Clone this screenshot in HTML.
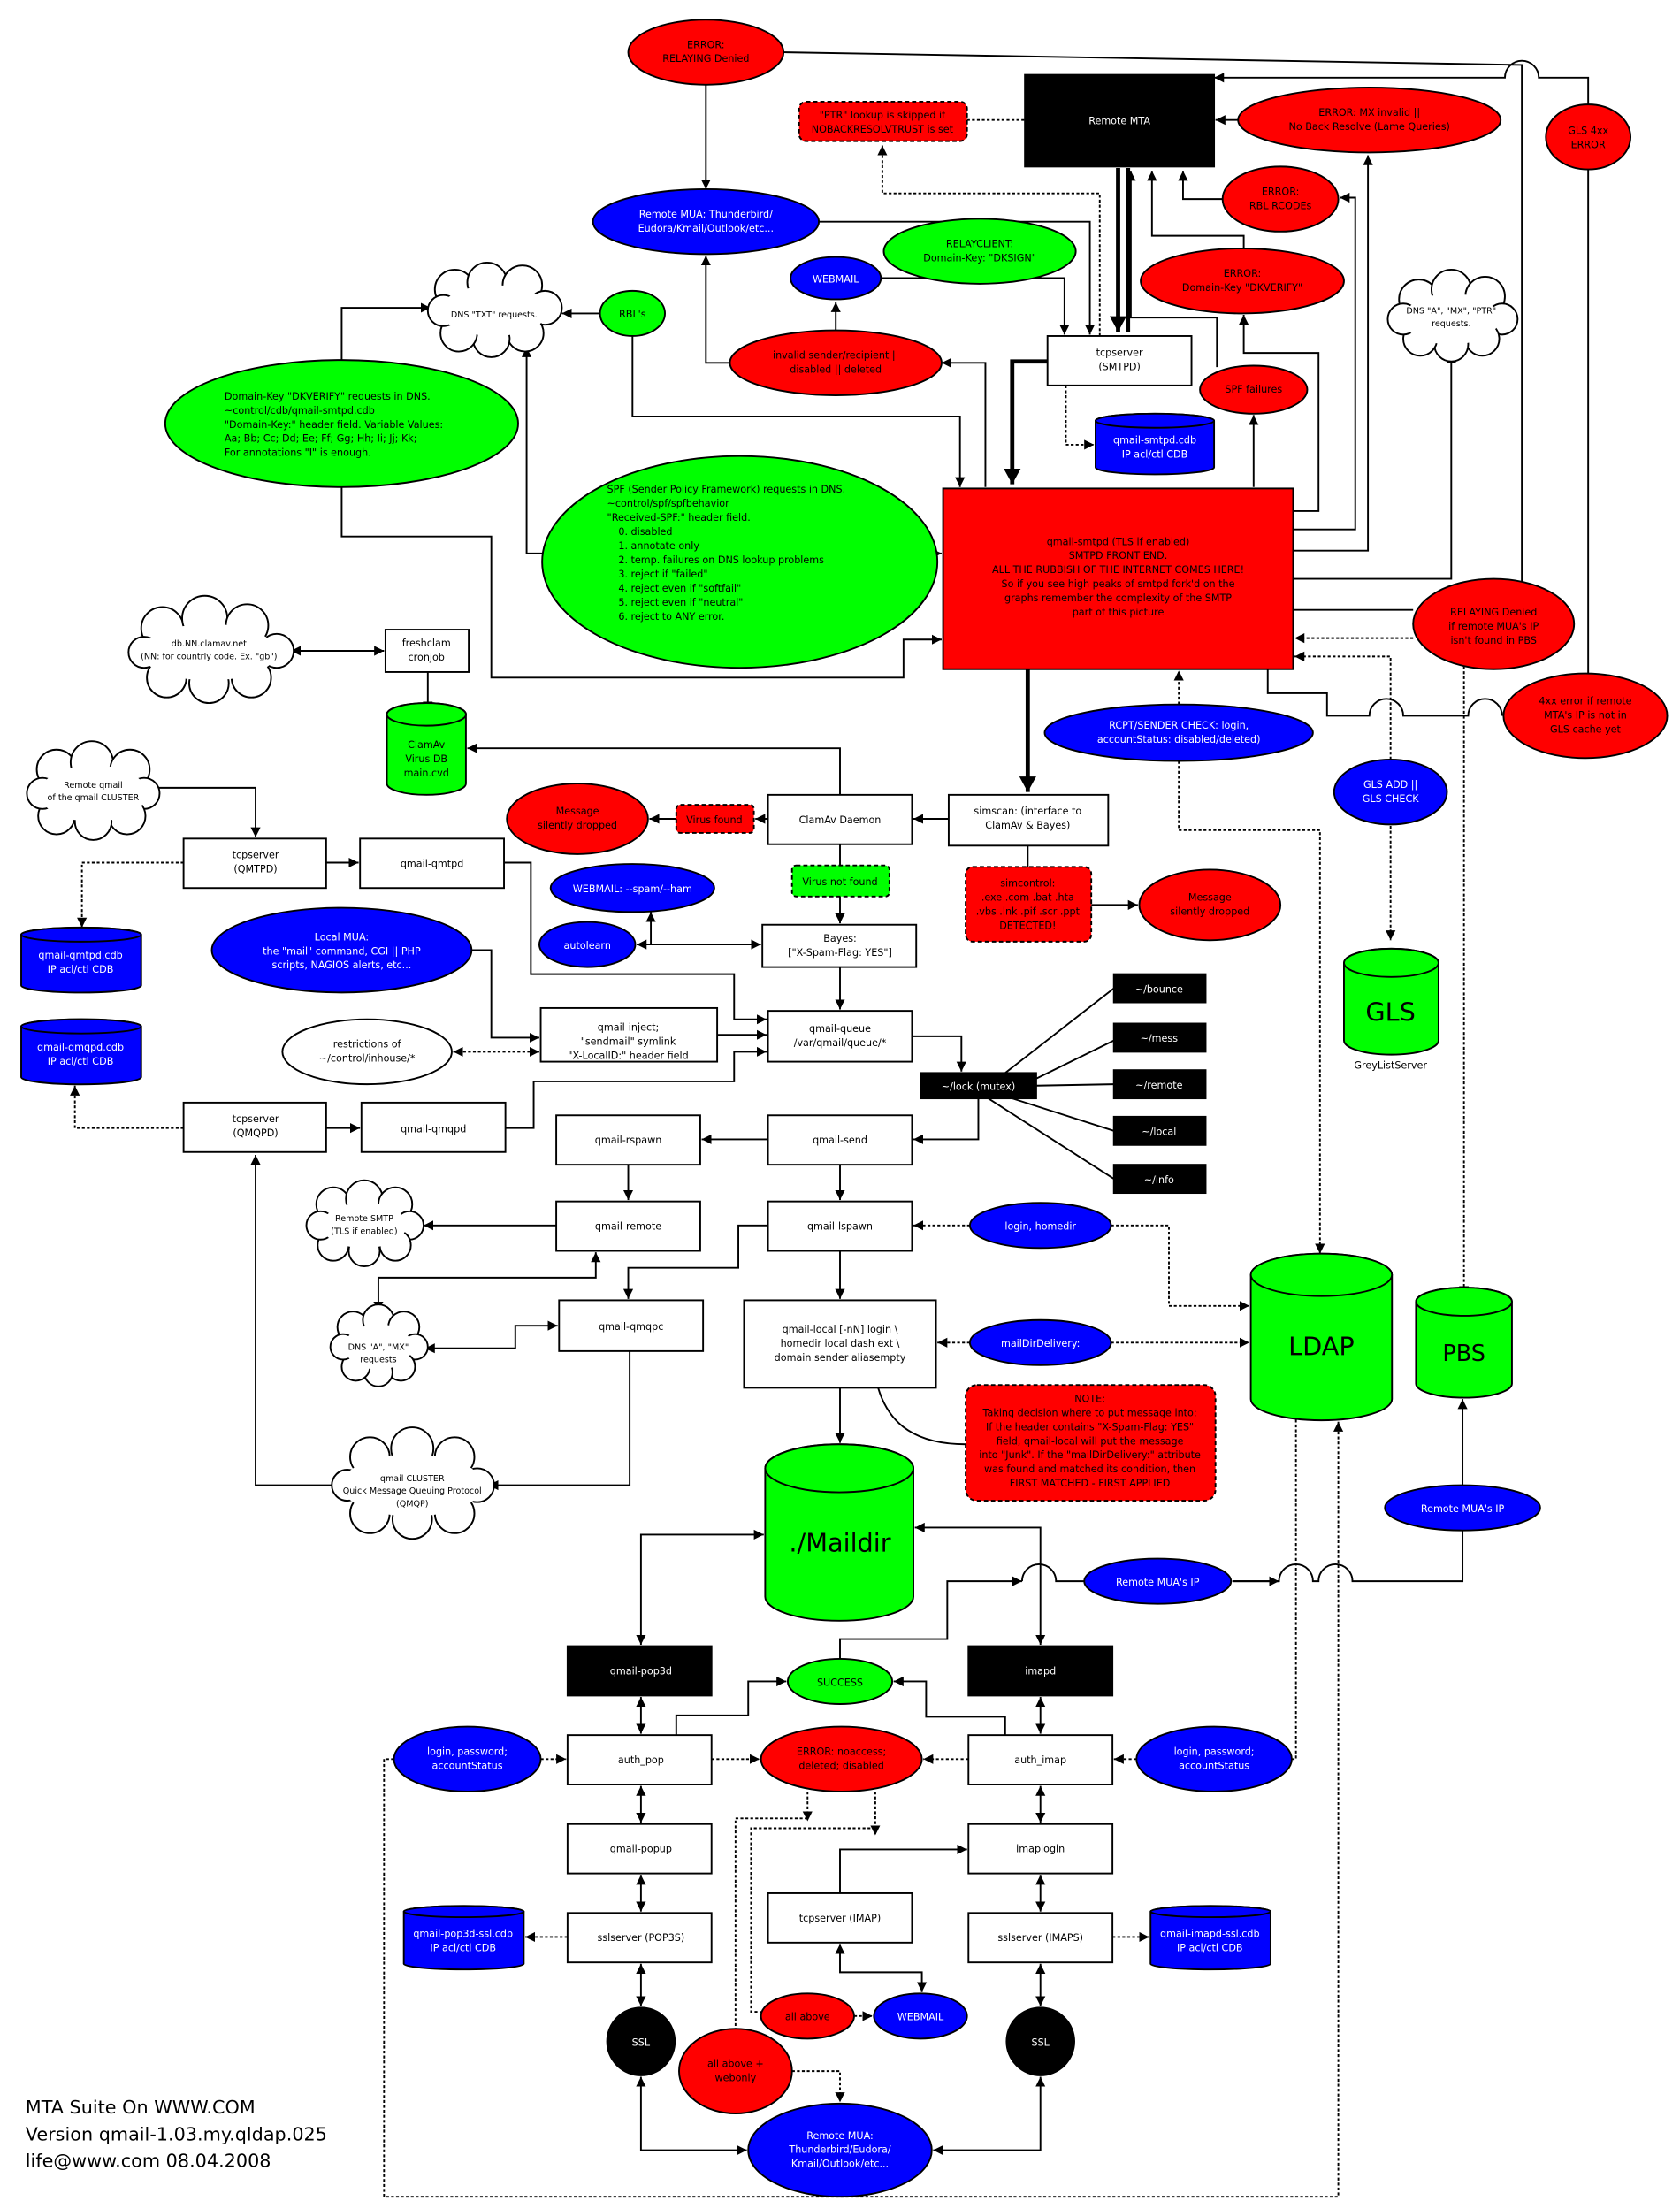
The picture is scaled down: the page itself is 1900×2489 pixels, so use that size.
<!DOCTYPE html>
<html><head><meta charset="utf-8"><style>html,body{margin:0;padding:0;background:#fff}svg{display:block}</style></head>
<body>
<svg width="1900" height="2489" viewBox="0 0 1190 1559" xmlns="http://www.w3.org/2000/svg" font-family="'DejaVu Sans','Liberation Sans',sans-serif" font-size="7">
<defs>
<marker id="a" markerUnits="userSpaceOnUse" markerWidth="8" markerHeight="8" refX="7" refY="4" orient="auto"><path d="M0,0.5 L7,4 L0,7.5 Z" fill="#000"/></marker>
<marker id="s" markerUnits="userSpaceOnUse" markerWidth="8" markerHeight="8" refX="1" refY="4" orient="auto"><path d="M8,0.5 L1,4 L8,7.5 Z" fill="#000"/></marker>
<marker id="A" markerUnits="userSpaceOnUse" markerWidth="12" markerHeight="12" refX="11" refY="6" orient="auto"><path d="M0,0 L11,6 L0,12 Z" fill="#000"/></marker>
</defs>
<rect width="1190" height="1559" fill="#fff"/>
<g fill="none" stroke="#000" stroke-width="1.2">
<!-- top lines -->
<path d="M555,37 L1078,46 L1078,430"/>
<path d="M1125,74 L1125,55 L1090,55 A12,12 0 0 0 1066,55 L860,55" marker-end="url(#a)"/>
<path d="M1125,120 L1125,478"/>
<path d="M500,60 L500,134" marker-end="url(#a)"/>
<path d="M685,85 L726,85" stroke-dasharray="2,1.5"/>
<path d="M779,238 L779,137 L625,137 L625,103" stroke-dasharray="2,1.5" marker-end="url(#a)"/>
<path d="M877,85 L861,85" marker-end="url(#a)"/>
<path d="M580,157 L772,157 L772,237" marker-end="url(#a)"/>
<path d="M625,197 L754,197 L754,237" marker-end="url(#a)"/>
<path d="M592,234 L592,214" marker-end="url(#a)"/>
<path d="M517,257 L500,257 L500,181" marker-end="url(#a)"/>
<path d="M698,345 L698,257 L667,257" marker-end="url(#a)"/>
<path d="M866,141 L838,141 L838,121" marker-end="url(#a)"/>
<path d="M916,362 L934,362 L934,250 L881,250 L881,223" marker-end="url(#a)"/>
<path d="M916,375 L960,375 L960,140 L949,140" marker-end="url(#a)"/>
<path d="M916,390 L969,390 L969,110" marker-end="url(#a)"/>
<path d="M881,176 L881,167 L816,167 L816,121" marker-end="url(#a)"/>
<path d="M862,260 L862,225 L801,225 L801,121" marker-end="url(#a)"/>
<path d="M888,345 L888,294" marker-end="url(#a)"/>
<path d="M916,410 L1028,410 L1028,250" marker-end="url(#a)"/>
<path d="M916,432 L1001,432"/>
<path d="M1001,452 L917,452" stroke-dasharray="2,1.5" marker-end="url(#a)"/>
<path d="M1037,465 L1037,918" stroke-dasharray="2,1.5" marker-end="url(#a)"/>
<path d="M898,474 L898,491 L940,491 L940,507 L970,507 A12,12 0 0 1 994,507 L1040,507 A12,12 0 0 1 1064,507"/>
<path d="M985,538 L985,465 L917,465" stroke-dasharray="2,1.5" marker-end="url(#a)"/>
<path d="M985,585 L985,666" stroke-dasharray="2,1.5" marker-end="url(#a)"/>
<path d="M835,499 L835,475" stroke-dasharray="2,1.5" marker-end="url(#a)"/>
<path d="M835,539 L835,588 L935,588 L935,888" stroke-dasharray="2,1.5" marker-end="url(#a)"/>
<path d="M755,273 L755,315 L775,315" stroke-dasharray="2,1.5" marker-end="url(#a)"/>
<!-- left top -->
<path d="M425,222 L398,222" marker-end="url(#a)"/>
<path d="M448,238 L448,295 L680,295 L680,345" marker-end="url(#a)"/>
<path d="M242,255 L242,218 L305,218" marker-end="url(#a)"/>
<path d="M242,345 L242,380 L348,380 L348,480 L640,480 L640,453 L667,453" marker-end="url(#a)"/>
<path d="M384,392 L373,392 L373,246" marker-end="url(#a)"/>
<path d="M664,392 L667,392" marker-end="url(#a)"/>
<path d="M206,461 L272,461" marker-start="url(#s)" marker-end="url(#a)"/>
<path d="M303,476 L303,504" marker-end="url(#a)"/>
<path d="M595,563 L595,530 L331,530" marker-end="url(#a)"/>
<path d="M544,580 L535,580" marker-end="url(#a)"/>
<path d="M479,580 L460,580" marker-end="url(#a)"/>
<path d="M672,580 L647,580" marker-end="url(#a)"/>
<path d="M728,599 L728,614"/>
<path d="M773,641 L806,641" marker-end="url(#a)"/>
<path d="M595,598 L595,613"/>
<path d="M595,635 L595,654" marker-end="url(#a)"/>
<path d="M451,669 L539,669" marker-start="url(#s)" marker-end="url(#a)"/>
<path d="M461,669 L461,646" marker-end="url(#a)"/>
<path d="M595,685 L595,715" marker-end="url(#a)"/>
<path d="M110,558 L181,558 L181,593" marker-end="url(#a)"/>
<path d="M231,611 L254,611" marker-end="url(#a)"/>
<path d="M130,611 L58,611 L58,657" stroke-dasharray="2,1.5" marker-end="url(#a)"/>
<path d="M357,611 L376,611 L376,690 L520,690 L520,722 L543,722" marker-end="url(#a)"/>
<path d="M334,673 L348,673 L348,735 L382,735" marker-end="url(#a)"/>
<path d="M321,745 L382,745" stroke-dasharray="2,1.5" marker-start="url(#s)" marker-end="url(#a)"/>
<path d="M508,733 L543,733" marker-end="url(#a)"/>
<path d="M231,799 L255,799" marker-end="url(#a)"/>
<path d="M130,799 L53,799 L53,769" stroke-dasharray="2,1.5" marker-end="url(#a)"/>
<path d="M358,799 L378,799 L378,766 L520,766 L520,745 L543,745" marker-end="url(#a)"/>
<path d="M646,734 L681,734 L681,759" marker-end="url(#a)"/>
<path d="M712,760 L789,700 M734,764 L789,737 M734,769 L789,768 M717,778 L789,801 M700,778 L789,835"/>
<path d="M693,778 L693,807 L647,807" marker-end="url(#a)"/>
<path d="M544,807 L497,807" marker-end="url(#a)"/>
<path d="M445,825 L445,850" marker-end="url(#a)"/>
<path d="M595,825 L595,850" marker-end="url(#a)"/>
<path d="M394,868 L300,868" marker-end="url(#a)"/>
<path d="M544,868 L523,868 L523,898 L445,898 L445,920" marker-end="url(#a)"/>
<path d="M268,929 L268,905 L422,905 L422,887" marker-start="url(#s)" marker-end="url(#a)"/>
<path d="M301,955 L365,955 L365,939 L395,939" marker-start="url(#s)" marker-end="url(#a)"/>
<path d="M446,957 L446,1052 L346,1052" marker-end="url(#a)"/>
<path d="M238,1052 L181,1052 L181,818" marker-end="url(#a)"/>
<path d="M687,868 L647,868" stroke-dasharray="2,1.5" marker-end="url(#a)"/>
<path d="M787,868 L828,868 L828,925 L885,925" stroke-dasharray="2,1.5" marker-end="url(#a)"/>
<path d="M595,885 L595,920" marker-end="url(#a)"/>
<path d="M687,951 L664,951" stroke-dasharray="2,1.5" marker-end="url(#a)"/>
<path d="M787,951 L885,951" stroke-dasharray="2,1.5" marker-end="url(#a)"/>
<path d="M622,983 C630,1010 650,1023 684,1023"/>
<path d="M595,983 L595,1022" marker-end="url(#a)"/>
<path d="M1036,1052 L1036,991" marker-end="url(#a)"/>
<path d="M873,1120 L906,1120 A12,12 0 0 1 930,1120 L934,1120 A12,12 0 0 1 958,1120 L1036,1120 L1036,1084"/>
<path d="M873,1120 L906,1120" marker-end="url(#a)"/>
<path d="M595,1175 L595,1161 L671,1161 L671,1120 L724,1120" marker-end="url(#a)"/>
<path d="M724,1120 A12,12 0 0 1 748,1120 L768,1120"/>
<path d="M541,1087 L454,1087 L454,1165" marker-start="url(#s)" marker-end="url(#a)"/>
<path d="M648,1082 L737,1082 L737,1165" marker-start="url(#s)" marker-end="url(#a)"/>
<path d="M454,1202 L454,1228" marker-start="url(#s)" marker-end="url(#a)"/>
<path d="M737,1202 L737,1228" marker-start="url(#s)" marker-end="url(#a)"/>
<path d="M479,1229 L479,1215 L530,1215 L530,1191 L557,1191" marker-end="url(#a)"/>
<path d="M712,1229 L712,1216 L656,1216 L656,1191 L633,1191" marker-end="url(#a)"/>
<path d="M383,1246 L401,1246" stroke-dasharray="2,1.5" marker-end="url(#a)"/>
<path d="M805,1246 L789,1246" stroke-dasharray="2,1.5" marker-end="url(#a)"/>
<path d="M915,1246 L918,1246 L918,983" stroke-dasharray="2,1.5" marker-end="url(#a)"/>
<path d="M504,1246 L538,1246" stroke-dasharray="2,1.5" marker-end="url(#a)"/>
<path d="M686,1246 L654,1246" stroke-dasharray="2,1.5" marker-end="url(#a)"/>
<path d="M572,1269 L572,1290" stroke-dasharray="2,1.5" marker-end="url(#a)"/>
<path d="M620,1269 L620,1300" stroke-dasharray="2,1.5" marker-end="url(#a)"/>
<path d="M572,1288 L521,1288 L521,1437" stroke-dasharray="2,1.5"/>
<path d="M620,1295 L532,1295 L532,1425 L539,1425" stroke-dasharray="2,1.5"/>
<path d="M454,1265 L454,1291" marker-start="url(#s)" marker-end="url(#a)"/>
<path d="M454,1328 L454,1354" marker-start="url(#s)" marker-end="url(#a)"/>
<path d="M454,1391 L454,1421" marker-start="url(#s)" marker-end="url(#a)"/>
<path d="M402,1372 L372,1372" stroke-dasharray="2,1.5" marker-end="url(#a)"/>
<path d="M737,1265 L737,1291" marker-start="url(#s)" marker-end="url(#a)"/>
<path d="M737,1328 L737,1354" marker-start="url(#s)" marker-end="url(#a)"/>
<path d="M737,1391 L737,1421" marker-start="url(#s)" marker-end="url(#a)"/>
<path d="M788,1372 L814,1372" stroke-dasharray="2,1.5" marker-end="url(#a)"/>
<path d="M595,1341 L595,1310 L685,1310" marker-end="url(#a)"/>
<path d="M595,1377 L595,1397 L653,1397 L653,1411" marker-start="url(#s)" marker-end="url(#a)"/>
<path d="M605,1428 L618,1428" stroke-dasharray="2,1.5" marker-end="url(#a)"/>
<path d="M561,1467 L595,1467 L595,1489" stroke-dasharray="2,1.5" marker-end="url(#a)"/>
<path d="M454,1471 L454,1523 L529,1523" marker-start="url(#s)" marker-end="url(#a)"/>
<path d="M737,1471 L737,1523 L661,1523" marker-start="url(#s)" marker-end="url(#a)"/>
<path d="M279,1246 L272,1246 L272,1556 L948,1556 L948,1007" stroke-dasharray="2,1.5" marker-end="url(#a)"/>
</g>
<!-- thick arrows -->
<g fill="none" stroke="#000" stroke-width="3">
<path d="M792,119 L792,235" marker-end="url(#A)"/>
<path d="M799,119 L799,235"/>
<path d="M742,256 L717,256 L717,343" marker-end="url(#A)"/>
<path d="M728,474 L728,561" marker-end="url(#A)"/>
</g>

<!-- ellipses -->
<g stroke="#000" stroke-width="1.2">
<ellipse cx="500" cy="37" rx="55" ry="23" fill="#f00"/>
<ellipse cx="970" cy="85" rx="93" ry="23" fill="#f00"/>
<ellipse cx="1125" cy="97" rx="30" ry="23" fill="#f00"/>
<ellipse cx="500" cy="157" rx="80" ry="23" fill="#00f"/>
<ellipse cx="694" cy="178" rx="68" ry="23" fill="#0f0"/>
<ellipse cx="907" cy="141" rx="41" ry="23" fill="#f00"/>
<ellipse cx="592" cy="197" rx="32" ry="15" fill="#00f"/>
<ellipse cx="880" cy="199" rx="72" ry="23" fill="#f00"/>
<ellipse cx="592" cy="257" rx="75" ry="23" fill="#f00"/>
<ellipse cx="448" cy="222" rx="23" ry="16" fill="#0f0"/>
<ellipse cx="888" cy="276" rx="38" ry="17" fill="#f00"/>
<ellipse cx="242" cy="300" rx="125" ry="45" fill="#0f0"/>
<ellipse cx="524" cy="398" rx="140" ry="75" fill="#0f0"/>
<ellipse cx="1058" cy="442" rx="57" ry="32" fill="#f00"/>
<ellipse cx="1123" cy="507" rx="58" ry="30" fill="#f00"/>
<ellipse cx="835" cy="519" rx="95" ry="20" fill="#00f"/>
<ellipse cx="985" cy="561" rx="40" ry="23" fill="#00f"/>
<ellipse cx="409" cy="580" rx="50" ry="25" fill="#f00"/>
<ellipse cx="857" cy="641" rx="50" ry="25" fill="#f00"/>
<ellipse cx="448" cy="629" rx="58" ry="17" fill="#00f"/>
<ellipse cx="416" cy="669" rx="34" ry="16" fill="#00f"/>
<ellipse cx="242" cy="673" rx="92" ry="30" fill="#00f"/>
<ellipse cx="260" cy="745" rx="60" ry="23" fill="#fff"/>
<ellipse cx="737" cy="868" rx="50" ry="16" fill="#00f"/>
<ellipse cx="737" cy="951" rx="50" ry="16" fill="#00f"/>
<ellipse cx="1036" cy="1068" rx="55" ry="16" fill="#00f"/>
<ellipse cx="820" cy="1120" rx="52" ry="16" fill="#00f"/>
<ellipse cx="595" cy="1191" rx="37" ry="16" fill="#0f0"/>
<ellipse cx="331" cy="1246" rx="52" ry="23" fill="#00f"/>
<ellipse cx="860" cy="1246" rx="55" ry="23" fill="#00f"/>
<ellipse cx="596" cy="1246" rx="57" ry="23" fill="#f00"/>
<ellipse cx="572" cy="1428" rx="33" ry="16" fill="#f00"/>
<ellipse cx="652" cy="1428" rx="33" ry="16" fill="#00f"/>
<ellipse cx="521" cy="1467" rx="40" ry="30" fill="#f00"/>
<ellipse cx="595" cy="1523" rx="65" ry="33" fill="#00f"/>
<circle cx="454" cy="1446" r="24" fill="#000"/>
<circle cx="737" cy="1446" r="24" fill="#000"/>
</g>

<!-- boxes -->
<g stroke="#000" stroke-width="1.2" fill="#fff">
<rect x="726" y="53" width="134" height="65" fill="#000"/>
<rect x="566" y="72" width="119" height="28" rx="5" fill="#f00" stroke-dasharray="3,2"/>
<rect x="742" y="238" width="102" height="35"/>
<rect x="668" y="346" width="248" height="128" fill="#f00"/>
<rect x="273" y="446" width="59" height="30"/>
<rect x="544" y="563" width="102" height="35"/>
<rect x="479" y="570" width="55" height="20" rx="3" fill="#f00" stroke-dasharray="3,2"/>
<rect x="672" y="563" width="113" height="36"/>
<rect x="684" y="614" width="89" height="53" rx="5" fill="#f00" stroke-dasharray="3,2"/>
<rect x="561" y="613" width="69" height="22" rx="3" fill="#0f0" stroke-dasharray="3,2"/>
<rect x="540" y="655" width="109" height="30"/>
<rect x="544" y="716" width="102" height="36"/>
<rect x="130" y="594" width="101" height="35"/>
<rect x="255" y="594" width="102" height="35"/>
<rect x="383" y="714" width="125" height="38"/>
<rect x="130" y="781" width="101" height="35"/>
<rect x="256" y="781" width="102" height="35"/>
<rect x="652" y="760" width="82" height="18" fill="#000"/>
<rect x="789" y="690" width="65" height="20" fill="#000"/>
<rect x="789" y="725" width="65" height="20" fill="#000"/>
<rect x="789" y="758" width="65" height="20" fill="#000"/>
<rect x="789" y="791" width="65" height="20" fill="#000"/>
<rect x="789" y="825" width="65" height="20" fill="#000"/>
<rect x="544" y="790" width="102" height="35"/>
<rect x="394" y="790" width="102" height="35"/>
<rect x="394" y="851" width="102" height="35"/>
<rect x="544" y="851" width="102" height="35"/>
<rect x="396" y="921" width="102" height="36"/>
<rect x="527" y="921" width="136" height="62"/>
<rect x="684" y="981" width="177" height="82" rx="8" fill="#f00" stroke-dasharray="3,2"/>
<rect x="402" y="1166" width="102" height="35" fill="#000"/>
<rect x="686" y="1166" width="102" height="35" fill="#000"/>
<rect x="402" y="1229" width="102" height="35"/>
<rect x="686" y="1229" width="102" height="35"/>
<rect x="402" y="1292" width="102" height="35"/>
<rect x="686" y="1292" width="102" height="35"/>
<rect x="402" y="1355" width="102" height="35"/>
<rect x="686" y="1355" width="102" height="35"/>
<rect x="544" y="1341" width="102" height="35"/>
</g>

<!-- cylinders -->
<g stroke="#000" stroke-width="1.2">
<path d="M776,298 A42,5 0 0 1 860,298 V331 A42,5 0 0 1 776,331 Z" fill="#00f"/><ellipse cx="818" cy="298" rx="42" ry="5" fill="#00f"/>
<path d="M274,506 A28,8 0 0 1 330,506 V555 A28,8 0 0 1 274,555 Z" fill="#0f0"/><ellipse cx="302" cy="506" rx="28" ry="8" fill="#0f0"/>
<path d="M15,662 A42,5 0 0 1 100,662 V698 A42,5 0 0 1 15,698 Z" fill="#00f"/><ellipse cx="57.5" cy="662" rx="42.5" ry="5" fill="#00f"/>
<path d="M15,727 A42,5 0 0 1 100,727 V763 A42,5 0 0 1 15,763 Z" fill="#00f"/><ellipse cx="57.5" cy="727" rx="42.5" ry="5" fill="#00f"/>
<path d="M952,682 A33.5,10 0 0 1 1019,682 V737 A33.5,10 0 0 1 952,737 Z" fill="#0f0"/><ellipse cx="985.5" cy="682" rx="33.5" ry="10" fill="#0f0"/>
<path d="M886,903 A50,15 0 0 1 986,903 V991 A50,15 0 0 1 886,991 Z" fill="#0f0"/><ellipse cx="936" cy="903" rx="50" ry="15" fill="#0f0"/>
<path d="M1003,922 A34,10 0 0 1 1071,922 V980 A34,10 0 0 1 1003,980 Z" fill="#0f0"/><ellipse cx="1037" cy="922" rx="34" ry="10" fill="#0f0"/>
<path d="M542,1040 A52.5,17 0 0 1 647,1040 V1131 A52.5,17 0 0 1 542,1131 Z" fill="#0f0"/><ellipse cx="594.5" cy="1040" rx="52.5" ry="17" fill="#0f0"/>
<path d="M286,1354 A42.5,4 0 0 1 371,1354 V1391 A42.5,4 0 0 1 286,1391 Z" fill="#00f"/><ellipse cx="328.5" cy="1354" rx="42.5" ry="4" fill="#00f"/>
<path d="M815,1354 A42.5,4 0 0 1 900,1354 V1391 A42.5,4 0 0 1 815,1391 Z" fill="#00f"/><ellipse cx="857.5" cy="1354" rx="42.5" ry="4" fill="#00f"/>
</g>

<!-- clouds -->
<g stroke="#000" stroke-width="1.2" fill="#fff">
<g><circle cx="322" cy="205" r="14"/><circle cx="345" cy="200" r="14"/><circle cx="370" cy="202" r="14"/><circle cx="386" cy="218" r="12"/><circle cx="372" cy="236" r="13"/><circle cx="348" cy="240" r="13"/><circle cx="325" cy="236" r="13"/><circle cx="314" cy="220" r="11"/><ellipse cx="350" cy="220" rx="38" ry="18" stroke="none"/></g>
<g><circle cx="1005" cy="212" r="14"/><circle cx="1028" cy="205" r="14"/><circle cx="1052" cy="210" r="14"/><circle cx="1064" cy="226" r="11"/><circle cx="1050" cy="240" r="12"/><circle cx="1028" cy="244" r="12"/><circle cx="1006" cy="240" r="12"/><circle cx="994" cy="226" r="11"/><ellipse cx="1028" cy="226" rx="34" ry="18" stroke="none"/></g>
<g><circle cx="115" cy="445" r="15"/><circle cx="145" cy="438" r="16"/><circle cx="175" cy="443" r="15"/><circle cx="196" cy="461" r="12"/><circle cx="178" cy="480" r="14"/><circle cx="148" cy="484" r="14"/><circle cx="118" cy="480" r="14"/><circle cx="102" cy="462" r="11"/><ellipse cx="148" cy="462" rx="48" ry="20" stroke="none"/></g>
<g><circle cx="40" cy="545" r="14"/><circle cx="65" cy="540" r="15"/><circle cx="92" cy="545" r="14"/><circle cx="102" cy="562" r="11"/><circle cx="90" cy="578" r="13"/><circle cx="66" cy="582" r="13"/><circle cx="40" cy="578" r="13"/><circle cx="30" cy="562" r="11"/><ellipse cx="66" cy="562" rx="38" ry="20" stroke="none"/></g>
<g><circle cx="236" cy="853" r="12"/><circle cx="258" cy="849" r="13"/><circle cx="280" cy="853" r="12"/><circle cx="290" cy="868" r="10"/><circle cx="280" cy="882" r="11"/><circle cx="258" cy="886" r="11"/><circle cx="236" cy="882" r="11"/><circle cx="227" cy="868" r="10"/><ellipse cx="258" cy="868" rx="30" ry="16" stroke="none"/></g>
<g><circle cx="250" cy="940" r="11"/><circle cx="268" cy="935" r="11"/><circle cx="286" cy="940" r="11"/><circle cx="294" cy="954" r="9"/><circle cx="284" cy="968" r="10"/><circle cx="268" cy="972" r="10"/><circle cx="252" cy="968" r="10"/><circle cx="243" cy="954" r="9"/><ellipse cx="268" cy="954" rx="24" ry="16" stroke="none"/></g>
<g><circle cx="262" cy="1032" r="14"/><circle cx="292" cy="1026" r="15"/><circle cx="322" cy="1032" r="14"/><circle cx="338" cy="1052" r="12"/><circle cx="322" cy="1072" r="14"/><circle cx="292" cy="1076" r="14"/><circle cx="262" cy="1072" r="14"/><circle cx="246" cy="1052" r="11"/><ellipse cx="292" cy="1052" rx="50" ry="22" stroke="none"/></g>
</g>

<!-- text -->
<g text-anchor="middle" font-size="7">
<g fill="#000">
<text x="500" y="34">ERROR:</text><text x="500" y="44">RELAYING Denied</text>
<text x="970" y="82">ERROR: MX invalid ||</text><text x="970" y="92">No Back Resolve (Lame Queries)</text>
<text x="1125" y="95">GLS 4xx</text><text x="1125" y="105">ERROR</text>
<text x="625" y="84">"PTR" lookup is skipped if</text><text x="625" y="94">NOBACKRESOLVTRUST is set</text>
<text x="694" y="175">RELAYCLIENT:</text><text x="694" y="185">Domain-Key: "DKSIGN"</text>
<text x="907" y="138">ERROR:</text><text x="907" y="148">RBL RCODEs</text>
<text x="880" y="196">ERROR:</text><text x="880" y="206">Domain-Key "DKVERIFY"</text>
<text x="592" y="254">invalid sender/recipient ||</text><text x="592" y="264">disabled || deleted</text>
<text x="448" y="225">RBL's</text>
<text x="888" y="278">SPF failures</text>
<text x="793" y="252">tcpserver</text><text x="793" y="262">(SMTPD)</text>
<text x="792" y="386">qmail-smtpd (TLS if enabled)</text><text x="792" y="396">SMTPD FRONT END.</text><text x="792" y="406">ALL THE RUBBISH OF THE INTERNET COMES HERE!</text><text x="792" y="416">So if you see high peaks of smtpd fork'd on the</text><text x="792" y="426">graphs remember the complexity of the SMTP</text><text x="792" y="436">part of this picture</text>
<text x="1058" y="436">RELAYING Denied</text><text x="1058" y="446">if remote MUA's IP</text><text x="1058" y="456">isn't found in PBS</text>
<text x="1123" y="499">4xx error if remote</text><text x="1123" y="509">MTA's IP is not in</text><text x="1123" y="519">GLS cache yet</text>
<text x="350" y="225" font-size="6">DNS "TXT" requests.</text>
<text x="1028" y="222" font-size="6">DNS "A", "MX", "PTR"</text><text x="1028" y="231" font-size="6">requests.</text>
<text x="148" y="458" font-size="6">db.NN.clamav.net</text><text x="148" y="467" font-size="6">(NN: for countrly code. Ex. "gb")</text>
<text x="302" y="458">freshclam</text><text x="302" y="468">cronjob</text>
<text x="302" y="530">ClamAv</text><text x="302" y="540">Virus DB</text><text x="302" y="550">main.cvd</text>
<text x="66" y="558" font-size="6">Remote qmail</text><text x="66" y="567" font-size="6">of the qmail CLUSTER</text>
<text x="595" y="583">ClamAv Daemon</text>
<text x="506" y="583">Virus found</text>
<text x="409" y="577">Message</text><text x="409" y="587">silently dropped</text>
<text x="728" y="577">simscan: (interface to</text><text x="728" y="587">ClamAv &amp; Bayes)</text>
<text x="728" y="628">simcontrol:</text><text x="728" y="638">.exe .com .bat .hta</text><text x="728" y="648">.vbs .lnk .pif .scr .ppt</text><text x="728" y="658">DETECTED!</text>
<text x="857" y="638">Message</text><text x="857" y="648">silently dropped</text>
<text x="595" y="627">Virus not found</text>
<text x="595" y="667">Bayes:</text><text x="595" y="677">["X-Spam-Flag: YES"]</text>
<text x="181" y="608">tcpserver</text><text x="181" y="618">(QMTPD)</text>
<text x="306" y="614">qmail-qmtpd</text>
<text x="445" y="730">qmail-inject;</text><text x="445" y="740">"sendmail" symlink</text><text x="445" y="750">"X-LocalID:" header field</text>
<text x="595" y="731">qmail-queue</text><text x="595" y="741">/var/qmail/queue/*</text>
<text x="260" y="742">restrictions of</text><text x="260" y="752">~/control/inhouse/*</text>
<text x="181" y="795">tcpserver</text><text x="181" y="805">(QMQPD)</text>
<text x="307" y="802">qmail-qmqpd</text>
<text x="595" y="810">qmail-send</text>
<text x="445" y="810">qmail-rspawn</text>
<text x="445" y="871">qmail-remote</text>
<text x="595" y="871">qmail-lspawn</text>
<text x="447" y="942">qmail-qmqpc</text>
<text x="258" y="865" font-size="6">Remote SMTP</text><text x="258" y="874" font-size="6">(TLS if enabled)</text>
<text x="268" y="956" font-size="6">DNS "A", "MX"</text><text x="268" y="965" font-size="6">requests</text>
<text x="292" y="1049" font-size="6">qmail CLUSTER</text><text x="292" y="1058" font-size="6">Quick Message Queuing Protocol</text><text x="292" y="1067" font-size="6">(QMQP)</text>
<text x="595" y="944">qmail-local [-nN] login \</text><text x="595" y="954">homedir local dash ext \</text><text x="595" y="964">domain sender aliasempty</text>
<text x="772" y="993">NOTE:</text>
<text x="772" y="1003">Taking decision where to put message into:</text>
<text x="772" y="1013">If the header contains "X-Spam-Flag: YES"</text>
<text x="772" y="1023">field, qmail-local will put the message</text>
<text x="772" y="1033">into "Junk". If the "mailDirDelivery:" attribute</text>
<text x="772" y="1043">was found and matched its condition, then</text>
<text x="772" y="1053">FIRST MATCHED - FIRST APPLIED</text>
<text x="595" y="1099" font-size="18">./Maildir</text>
<text x="936" y="960" font-size="18">LDAP</text>
<text x="1037" y="964" font-size="16">PBS</text>
<text x="985" y="723" font-size="18">GLS</text>
<text x="985" y="757">GreyListServer</text>
<text x="595" y="1194">SUCCESS</text>
<text x="454" y="1249">auth_pop</text>
<text x="737" y="1249">auth_imap</text>
<text x="596" y="1243">ERROR: noaccess;</text><text x="596" y="1253">deleted; disabled</text>
<text x="454" y="1312">qmail-popup</text>
<text x="737" y="1312">imaplogin</text>
<text x="454" y="1375">sslserver (POP3S)</text>
<text x="737" y="1375">sslserver (IMAPS)</text>
<text x="595" y="1361">tcpserver (IMAP)</text>
<text x="572" y="1431">all above</text>
<text x="521" y="1464">all above +</text><text x="521" y="1474">webonly</text>
</g>
<g fill="#fff">
<text x="793" y="88">Remote MTA</text>
<text x="500" y="154">Remote MUA: Thunderbird/</text><text x="500" y="164">Eudora/Kmail/Outlook/etc...</text>
<text x="592" y="200">WEBMAIL</text>
<text x="818" y="314">qmail-smtpd.cdb</text><text x="818" y="324">IP acl/ctl CDB</text>
<text x="835" y="516">RCPT/SENDER CHECK: login,</text><text x="835" y="526">accountStatus: disabled/deleted)</text>
<text x="985" y="558">GLS ADD ||</text><text x="985" y="568">GLS CHECK</text>
<text x="448" y="632">WEBMAIL: --spam/--ham</text>
<text x="416" y="672">autolearn</text>
<text x="242" y="666">Local MUA:</text><text x="242" y="676">the "mail" command, CGI || PHP</text><text x="242" y="686">scripts, NAGIOS alerts, etc...</text>
<text x="57" y="679">qmail-qmtpd.cdb</text><text x="57" y="689">IP acl/ctl CDB</text>
<text x="57" y="744">qmail-qmqpd.cdb</text><text x="57" y="754">IP acl/ctl CDB</text>
<text x="693" y="772">~/lock (mutex)</text>
<text x="821" y="703">~/bounce</text>
<text x="821" y="738">~/mess</text>
<text x="821" y="771">~/remote</text>
<text x="821" y="804">~/local</text>
<text x="821" y="838">~/info</text>
<text x="737" y="871">login, homedir</text>
<text x="737" y="954">mailDirDelivery:</text>
<text x="1036" y="1071">Remote MUA's IP</text>
<text x="820" y="1123">Remote MUA's IP</text>
<text x="454" y="1186">qmail-pop3d</text>
<text x="737" y="1186">imapd</text>
<text x="331" y="1243">login, password;</text><text x="331" y="1253">accountStatus</text>
<text x="860" y="1243">login, password;</text><text x="860" y="1253">accountStatus</text>
<text x="328" y="1372">qmail-pop3d-ssl.cdb</text><text x="328" y="1382">IP acl/ctl CDB</text>
<text x="857" y="1372">qmail-imapd-ssl.cdb</text><text x="857" y="1382">IP acl/ctl CDB</text>
<text x="652" y="1431">WEBMAIL</text>
<text x="454" y="1449">SSL</text>
<text x="737" y="1449">SSL</text>
<text x="595" y="1515">Remote MUA:</text><text x="595" y="1525">Thunderbird/Eudora/</text><text x="595" y="1535">Kmail/Outlook/etc...</text>
</g>
</g>
<g text-anchor="start" font-size="7" fill="#000">
<text x="159" y="283">Domain-Key "DKVERIFY" requests in DNS.</text>
<text x="159" y="293">~control/cdb/qmail-smtpd.cdb</text>
<text x="159" y="303">"Domain-Key:" header field. Variable Values:</text>
<text x="159" y="313">   Aa; Bb; Cc; Dd; Ee; Ff; Gg; Hh; Ii; Jj; Kk;</text>
<text x="159" y="323">For annotations "I" is enough.</text>
<text x="430" y="349">SPF (Sender Policy Framework) requests in DNS.</text>
<text x="430" y="359">~control/spf/spfbehavior</text>
<text x="430" y="369">"Received-SPF:" header field.</text>
<text x="438" y="379">0. disabled</text>
<text x="438" y="389">1. annotate only</text>
<text x="438" y="399">2. temp. failures on DNS lookup problems</text>
<text x="438" y="409">3. reject if "failed"</text>
<text x="438" y="419">4. reject even if "softfail"</text>
<text x="438" y="429">5. reject even if "neutral"</text>
<text x="438" y="439">6. reject to ANY error.</text>
<text x="18" y="1497" font-size="13">MTA Suite On WWW.COM</text>
<text x="18" y="1516" font-size="13">Version qmail-1.03.my.qldap.025</text>
<text x="18" y="1535" font-size="13">life@www.com 08.04.2008</text>
</g>
</svg>
</body></html>
